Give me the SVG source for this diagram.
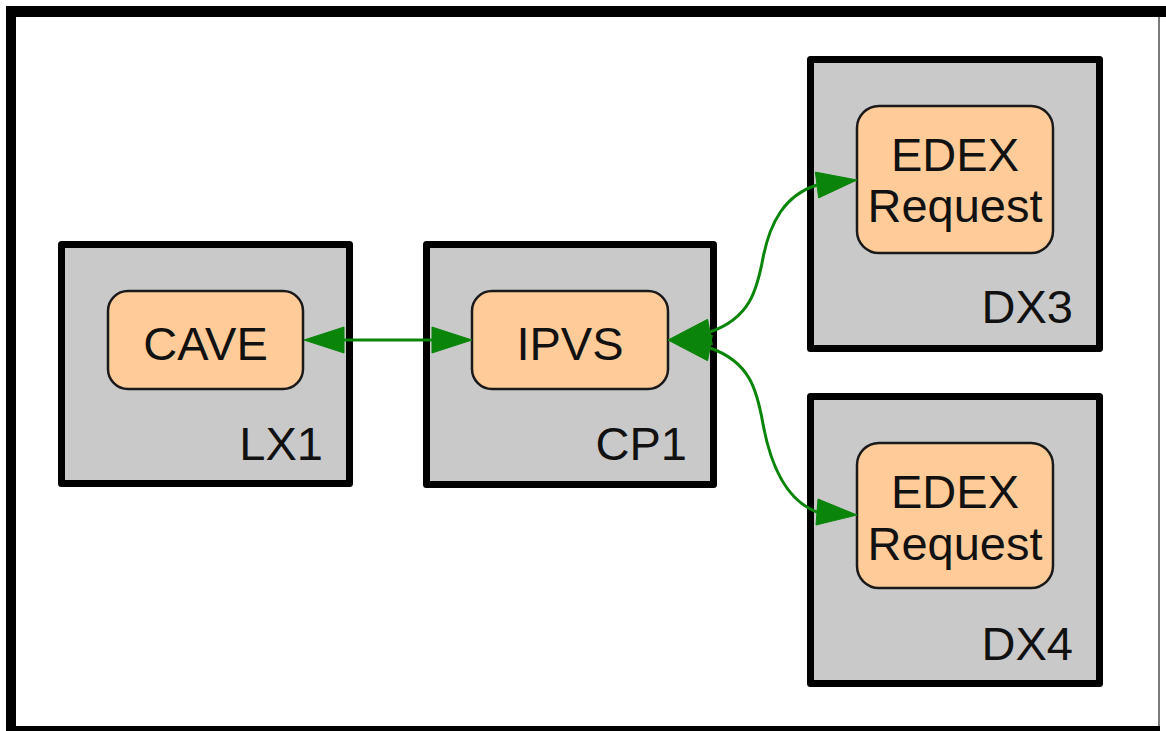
<svg xmlns="http://www.w3.org/2000/svg" width="1166" height="731" viewBox="0 0 1166 731">
<style>
.host{fill:#c9c9c9;stroke:#000;stroke-width:7;stroke-linejoin:round}
.proc{fill:#ffcc99;stroke:#1a1a1a;stroke-width:2.5}
.t{font-family:"Liberation Sans",Arial,sans-serif;font-size:47px;fill:#111}
.c{text-anchor:middle}
.r{text-anchor:end}
.edge{fill:none;stroke:#0a850a;stroke-width:3}
.head{fill:#0a850a;stroke:#0a850a;stroke-width:1}
</style>
<rect x="0" y="0" width="1166" height="731" fill="#fff"/>
<g id="frame">
<line x1="1159" y1="12" x2="1159" y2="731" stroke="#7a7a7a" stroke-width="2"/>
<line x1="6" y1="11.5" x2="1166" y2="11.5" stroke="#000" stroke-width="11"/>
<line x1="11" y1="6" x2="11" y2="731" stroke="#000" stroke-width="10"/>
<line x1="6" y1="731" x2="1160" y2="731" stroke="#000" stroke-width="10"/>
</g>
<g id="LX1">
<rect class="host" x="61.5" y="244.5" width="288" height="239"/>
<text class="t r" x="323" y="460">LX1</text>
</g>
<g id="CAVE">
<rect class="proc" x="108" y="291" width="195" height="98" rx="20"/>
<text class="t c" x="205.5" y="360">CAVE</text>
</g>
<g id="CP1">
<rect class="host" x="426.5" y="244.5" width="287" height="240"/>
<text class="t r" x="687" y="460">CP1</text>
</g>
<g id="IPVS">
<rect class="proc" x="472" y="291" width="196" height="98" rx="20"/>
<text class="t c" x="570" y="360">IPVS</text>
</g>
<g id="DX3">
<rect class="host" x="810.5" y="59.5" width="289" height="289"/>
<text class="t r" x="1073" y="323">DX3</text>
</g>
<g id="EDEX3">
<rect class="proc" x="857" y="106" width="196" height="147" rx="22"/>
<text class="t c" x="955" y="171">EDEX</text>
<text class="t c" x="955" y="222">Request</text>
</g>
<g id="DX4">
<rect class="host" x="810.5" y="396.5" width="289" height="287"/>
<text class="t r" x="1073" y="660">DX4</text>
</g>
<g id="EDEX4">
<rect class="proc" x="857" y="443" width="196" height="145" rx="22"/>
<text class="t c" x="955" y="508">EDEX</text>
<text class="t c" x="955" y="560">Request</text>
</g>
<g id="connectors">
<line class="edge" x1="343" y1="340" x2="434" y2="340"/>
<polygon class="head" points="304,340 344,327 344,353"/>
<polygon class="head" points="472,340 432,327 432,353"/>
<path class="edge" d="M710,332 C750,318 757,290 763,258 C770,222 785,195 817,185"/>
<polygon class="head" points="668,340 712.4,344.7 707.6,319.3"/>
<polygon class="head" points="857,180 818.6,197.9 815.4,172.1"/>
<path class="edge" d="M710,348 C750,362 757,390 763,424 C770,462 785,500 817,512"/>
<polygon class="head" points="668,340 707.6,360.7 712.4,335.3"/>
<polygon class="head" points="857,515 816,525 818,499"/>
</g>
</svg>
